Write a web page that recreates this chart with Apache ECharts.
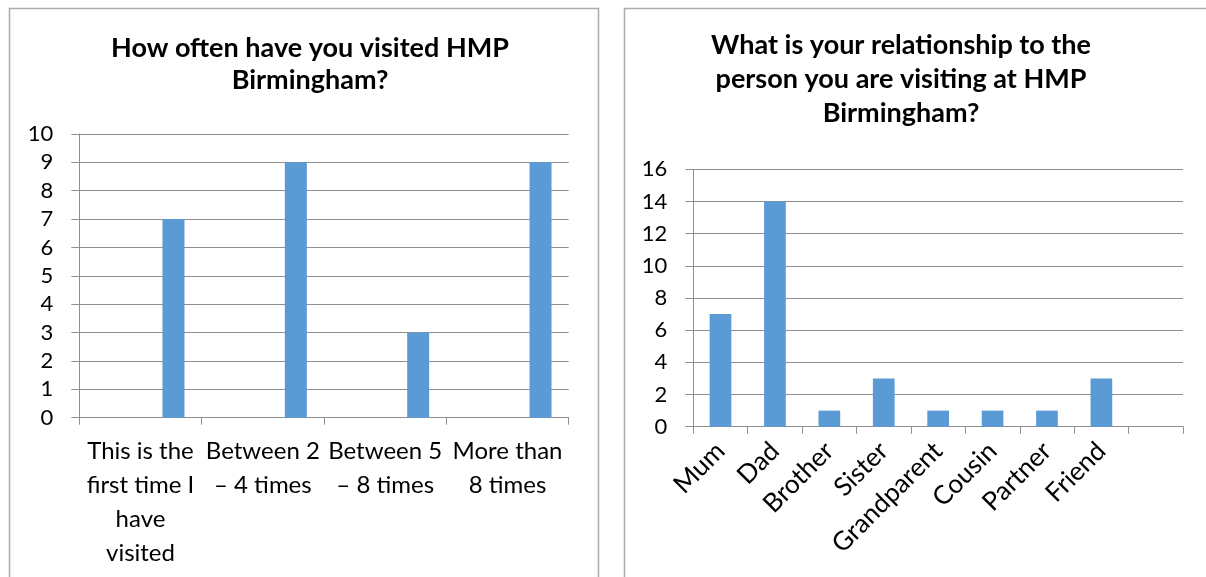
<!DOCTYPE html>
<html>
<head>
<meta charset="utf-8">
<script src="https://cdn.jsdelivr.net/npm/echarts@6/dist/echarts.min.js"></script>
<style>
html,body{margin:0;padding:0;background:#fff;}
#chart{width:1206px;height:577px;}
</style>
</head>
<body>
<div id="chart"></div>
<script>
// ---- Data ----
const title1 = 'How often have you visited HMP\nBirmingham?';
const categories1 = ['This is the\nfirst time I\nhave\nvisited', 'Between 2\n\u2013 4 times', 'Between 5\n\u2013 8 times', 'More than\n8 times'];
const visits = [7, 9, 3, 9];
const emptySlots = [null, null, null, null];

const title2 = 'What is your relationship to the\nperson you are visiting at HMP\nBirmingham?';
const categories2 = ['Mum', 'Dad', 'Brother', 'Sister', 'Grandparent', 'Cousin', 'Partner', 'Friend', ''];
const relationship = [7, 14, 1, 3, 1, 1, 1, 3, null];

const yTicks1 = {min: 0, max: 10, interval: 1};
const yTicks2 = {min: 0, max: 16, interval: 2};

// ---- Styles ----
const FONT = 'Lato, "Open Sans", sans-serif';
const BAR = '#5B9BD5';
const GRID = '#8f8f8f';
const TEXT = '#000';

const chart = echarts.init(document.getElementById('chart'));

function yAxis(idx, t, margin) {
  return {
    type: 'value', gridIndex: idx, min: t.min, max: t.max, interval: t.interval,
    axisLine: {show: true, lineStyle: {color: GRID, width: 1}},
    axisTick: {show: true, length: 8, lineStyle: {color: GRID}},
    splitLine: {show: true, lineStyle: {color: GRID, width: 1}},
    axisLabel: {color: TEXT, fontFamily: FONT, fontSize: 22, margin: margin}
  };
}

const series1 = [emptySlots, emptySlots, emptySlots, visits].map((d, i) => ({
  type: 'bar', xAxisIndex: 0, yAxisIndex: 0, data: d,
  barWidth: 22, barGap: '0%', itemStyle: {color: BAR}, silent: true
}));

chart.setOption({
  animation: false,
  backgroundColor: '#fff',
  graphic: [
    {type: 'rect', shape: {x: 9.5, y: 8.5, width: 589, height: 600},
     style: {fill: null, stroke: '#ababab', lineWidth: 1.5}, z: -1},
    {type: 'rect', shape: {x: 624.5, y: 8.5, width: 620, height: 600},
     style: {fill: null, stroke: '#ababab', lineWidth: 1.5}, z: -1}
  ],
  title: [
    {text: title1, left: 305, top: 27, textAlign: 'center',
     textStyle: {fontFamily: FONT, fontWeight: 'bold', fontSize: 27, lineHeight: 32, color: TEXT}},
    {text: title2, left: 896, top: 23, textAlign: 'center',
     textStyle: {fontFamily: FONT, fontWeight: 'bold', fontSize: 27, lineHeight: 34, color: TEXT}}
  ],
  grid: [
    {left: 79.3, top: 134, width: 489.4, height: 283.7},
    {left: 693.3, top: 169.3, width: 489.7, height: 257.4}
  ],
  xAxis: [
    {type: 'category', gridIndex: 0, data: categories1,
     axisLine: {show: true, lineStyle: {color: GRID}},
     axisTick: {show: true, length: 7, lineStyle: {color: GRID}},
     axisLabel: {color: TEXT, fontFamily: FONT, fontSize: 24, lineHeight: 34, margin: 17, interval: 0}},
    {type: 'category', gridIndex: 1, data: categories2,
     axisLine: {show: true, lineStyle: {color: GRID}},
     axisTick: {show: true, length: 7, lineStyle: {color: GRID}},
     axisLabel: {color: TEXT, fontFamily: FONT, fontSize: 26, rotate: 45, margin: 20, interval: 0}}
  ],
  yAxis: [yAxis(0, yTicks1, 26), yAxis(1, yTicks2, 26)],
  series: series1.concat([
    {type: 'bar', xAxisIndex: 1, yAxisIndex: 1, data: relationship,
     barWidth: 21.7, itemStyle: {color: BAR}, silent: true}
  ])
});
</script>
</body>
</html>
